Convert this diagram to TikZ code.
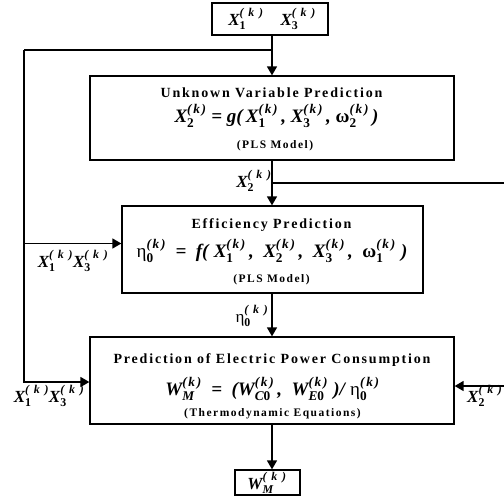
\documentclass[tikz,border=0pt]{standalone}
\usepackage{amsmath}
\usepackage{fontspec}
\setmainfont{Liberation Serif}
\newfontfamily\spaced{Liberation Serif}[LetterSpace=13]
\newfontfamily\wide{Liberation Serif}[LetterSpace=40]
\usetikzlibrary{arrows.meta}
% Variable mit Index und (k)
\newcommand{\vr}[2]{\ensuremath{\text{#1}_{\text{\upshape #2}}^{\text{\spaced (k)}}}}
\newcommand{\lv}[2]{\ensuremath{\text{#1}_{\text{\upshape #2}}^{\text{\wide (k)}}}}
\newcommand{\sep}{\,,\ }
\newcommand{\msep}{\,,\enskip}
\begin{document}
\begin{tikzpicture}[x=1pt,y=-1pt,
    box/.style={draw, line width=1.3pt, inner sep=0pt},
    ttl/.style={font=\spaced\bfseries\fontsize{14}{16}\selectfont, inner sep=0pt},
    eqn/.style={font=\bfseries\itshape\fontsize{19}{22}\selectfont, inner sep=0pt},
    sml/.style={font=\spaced\bfseries\fontsize{11.5}{13}\selectfont, inner sep=0pt},
    lbl/.style={font=\bfseries\itshape\fontsize{17}{18}\selectfont, inner sep=0pt},
    line/.style={line width=1.6pt},
    arr/.style={line width=1.6pt, -{Triangle[length=9pt,width=10pt]}}]
    \useasboundingbox (0,0) rectangle (504,504);

    % Eingang
    \node[box, minimum width=116, minimum height=32] (inp) at (270,19) {};
    \node[lbl, anchor=base] (inp-t) at (272,25) {\lv{X}{1}\quad\lv{X}{3}};

    % Unbekannte Variable
    \node[box, minimum width=364, minimum height=84] (pred) at (272,118) {};
    \node[ttl, anchor=base] (pred-t) at (271.5,97) {Unknown Variable Prediction};
    \node[eqn, anchor=base] (pred-e) at (276.5,122) {\vr{X}{2} = g(\,\vr{X}{1}\sep\vr{X}{3}\sep\vr{\upshape ω}{2}\,)};
    \node[sml, anchor=base] (pred-m) at (275,148) {(PLS Model)};

    % Wirkungsgrad
    \node[box, minimum width=301, minimum height=87] (eff) at (272.5,249.5) {};
    \node[ttl, anchor=base] (eff-t) at (271.5,228) {Efficiency Prediction};
    \node[eqn, anchor=base] (eff-e) at (272,257) {\vr{\upshape\mdseries η}{0}\enskip=\enskip f(\;\vr{X}{1}\msep\vr{X}{2}\msep\vr{X}{3}\msep\vr{\upshape ω}{1}\;)};
    \node[sml, anchor=base] (eff-m) at (271.5,282) {(PLS Model)};

    % Leistungsaufnahme
    \node[box, minimum width=364, minimum height=87] (pow) at (272,380.5) {};
    \node[ttl, anchor=base] (pow-t) at (272,363) {Prediction of Electric Power Consumption};
    \node[eqn, anchor=base] (pow-e) at (272.5,395) {\vr{W}{\itshape M}\enskip=\enskip(\vr{W}{\itshape C\upshape 0}\msep\vr{W}{\itshape E\upshape 0}\;)/\;\vr{\upshape\mdseries η}{0}};
    \node[sml, anchor=base] (pow-m) at (272.5,416) {(Thermodynamic Equations)};

    % Ausgang
    \node[box, minimum width=65, minimum height=25] (out) at (267.5,482.5) {};
    \node[lbl, anchor=base] (out-t) at (267,489) {\lv{W}{\itshape M}};

    % Verzweigungen
    \coordinate (sp1) at (272,50);
    \coordinate (lc) at (24,50);
    \coordinate (sp2) at (272,183);
    \coordinate (rc) at (508,183);

    \draw[arr] (inp.south -| sp1) -- (sp1 |- pred.north);
    \draw[arr] (pred.south -| sp1) -- (sp1 |- eff.north);
    \draw[arr] (eff.south -| sp1) -- (sp1 |- pow.north);
    \draw[arr] (pow.south -| sp1) -- (sp1 |- out.north);
    \draw[line] (sp1) -- (lc);
    \draw[arr] (lc) |- ([yshift=6pt]eff.west);
    \draw[arr] (lc) |- ([yshift=-1.5pt]pow.west);
    \draw[line] (sp2) -- (rc);
    \draw[arr] (rc) |- ([yshift=-5.5pt]pow.east);

    % Beschriftungen
    \node[lbl, anchor=base] (lx2) at (254,187) {\lv{X}{2}};
    \node[lbl, anchor=base] (leta) at (252,322) {\lv{\upshape\mdseries η}{0}};
    \node[lbl, anchor=base] (lx13a) at (73,267) {\lv{X}{1}\lv{X}{3}};
    \node[lbl, anchor=base] (lx13b) at (49,402) {\lv{X}{1}\lv{X}{3}};
    \node[lbl, anchor=base west] (lx2b) at (467,402) {\lv{X}{2}};
\end{tikzpicture}
\end{document}
